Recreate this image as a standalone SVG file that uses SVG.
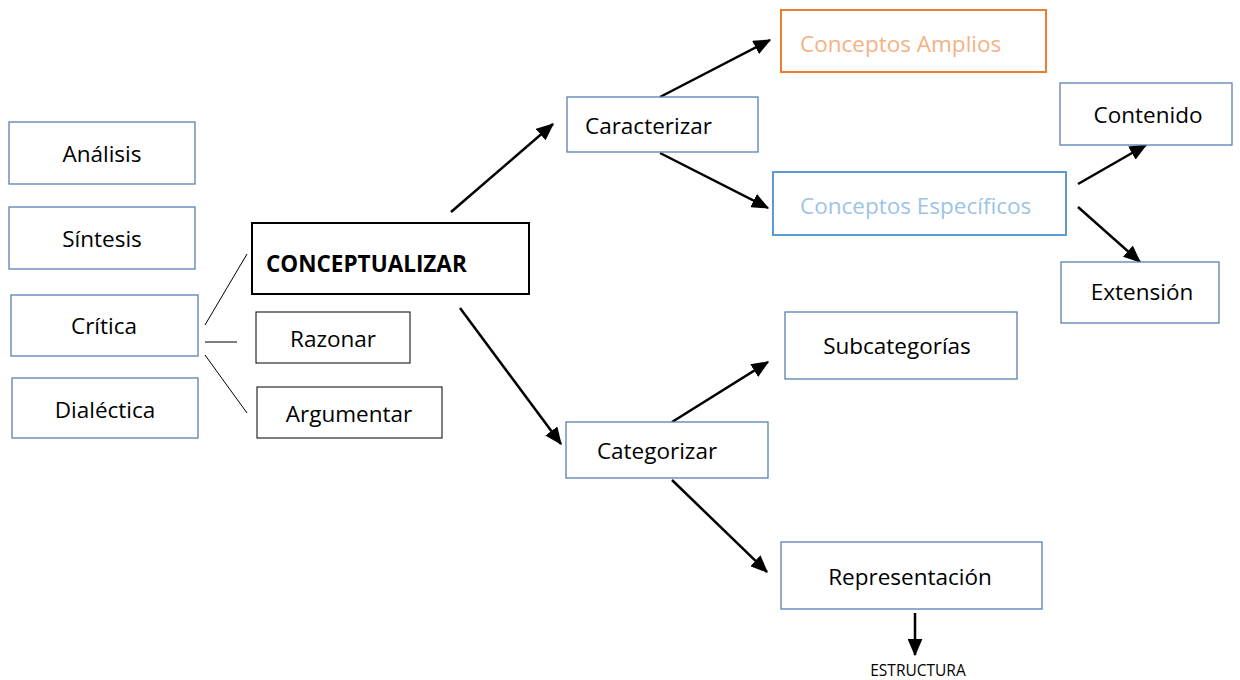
<svg xmlns="http://www.w3.org/2000/svg" width="1240" height="680" viewBox="0 0 1240 680">
<defs>
<style>
.box{fill:#fff;stroke:#5a80b4;stroke-width:1.3}
.bk{fill:#fff;stroke:#000;stroke-width:1}
.t{font-family:"Open Sans","Noto Sans","DejaVu Sans",sans-serif;font-size:22.5px;fill:#000}
.c{stroke:#000;stroke-width:2.5;fill:none;marker-end:url(#ah)}
.ln{stroke:#000;stroke-width:1;fill:none}
</style>
<marker id="ah" markerWidth="7" markerHeight="6" refX="6.5" refY="3" orient="auto" markerUnits="strokeWidth">
<path d="M0,0 L7,3 L0,6 z" fill="#000"/>
</marker>
</defs>
<rect width="1240" height="680" fill="#fff"/>

<g id="connectors">
<line class="ln" x1="205" y1="325" x2="247" y2="254"/>
<line class="ln" x1="205" y1="342" x2="237" y2="342"/>
<line class="ln" x1="205" y1="355" x2="247" y2="413"/>
<line class="c" x1="451" y1="212" x2="553" y2="124"/>
<line class="c" x1="460" y1="308" x2="561" y2="444"/>
<line class="c" x1="660" y1="97" x2="770" y2="40"/>
<line class="c" x1="660" y1="153" x2="768" y2="208"/>
<line class="c" x1="1078" y1="184" x2="1146" y2="145"/>
<line class="c" x1="1078" y1="207" x2="1140" y2="262"/>
<line class="c" x1="672" y1="422" x2="768" y2="362"/>
<line class="c" x1="672" y1="480" x2="767" y2="572"/>
<line class="c" x1="915" y1="613" x2="915" y2="655"/>
</g>

<g id="analisis"><rect class="box" x="9" y="122" width="186" height="62"/><text class="t" x="102" y="162" text-anchor="middle">Análisis</text></g>
<g id="sintesis"><rect class="box" x="9" y="207" width="186" height="62"/><text class="t" x="102" y="247" text-anchor="middle">Síntesis</text></g>
<g id="critica"><rect class="box" x="11" y="295" width="187" height="61"/><text class="t" x="104" y="334" text-anchor="middle">Crítica</text></g>
<g id="dialectica"><rect class="box" x="12" y="378" width="186" height="60"/><text class="t" x="105" y="418" text-anchor="middle">Dialéctica</text></g>

<g id="conceptualizar"><rect x="252" y="223" width="277" height="71" fill="#fff" stroke="#000" stroke-width="2"/><text class="t" x="266" y="272" font-weight="bold">CONCEPTUALIZAR</text></g>
<g id="razonar"><rect class="bk" x="256" y="312" width="154" height="51"/><text class="t" x="333" y="347" text-anchor="middle">Razonar</text></g>
<g id="argumentar"><rect class="bk" x="257" y="387" width="185" height="51"/><text class="t" x="349" y="422" text-anchor="middle">Argumentar</text></g>

<g id="caracterizar"><rect class="box" x="567" y="97" width="191" height="55"/><text class="t" x="585" y="134">Caracterizar</text></g>
<g id="conceptos-amplios"><rect x="781" y="10" width="265" height="62" fill="#fff" stroke="#ed7d31" stroke-width="2"/><text class="t" x="800" y="52" style="fill:#f4b183">Conceptos Amplios</text></g>
<g id="conceptos-especificos"><rect x="773" y="172" width="293" height="63" fill="#fff" stroke="#5b9bd5" stroke-width="2"/><text class="t" x="800" y="214" style="fill:#9dc3e6">Conceptos Específicos</text></g>
<g id="contenido"><rect class="box" x="1060" y="83" width="172" height="62"/><text class="t" x="1148" y="123" text-anchor="middle">Contenido</text></g>
<g id="extension"><rect class="box" x="1061" y="262" width="158" height="61"/><text class="t" x="1142" y="300" text-anchor="middle">Extensión</text></g>

<g id="categorizar"><rect class="box" x="566" y="422" width="202" height="56"/><text class="t" x="657" y="459" text-anchor="middle">Categorizar</text></g>
<g id="subcategorias"><rect class="box" x="785" y="312" width="232" height="67" /><text class="t" x="897" y="354" text-anchor="middle">Subcategorías</text></g>
<g id="representacion"><rect class="box" x="781" y="542" width="261" height="67"/><text class="t" x="910" y="585" text-anchor="middle">Representación</text></g>
<g id="estructura"><text x="918" y="676" text-anchor="middle" font-family="'Open Sans','Noto Sans',sans-serif" font-size="15.5" fill="#000">ESTRUCTURA</text></g>
</svg>
